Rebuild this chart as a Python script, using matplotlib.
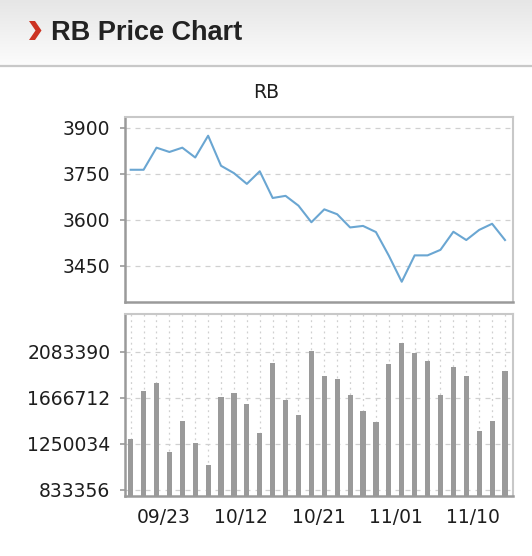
import matplotlib
matplotlib.use("Agg")
import matplotlib.pyplot as plt
import numpy as np
from matplotlib.patches import Polygon
from matplotlib.lines import Line2D

# price line (30 sessions)
price = [3763, 3763, 3835, 3821, 3835, 3803, 3874, 3776, 3752, 3717,
         3758, 3671, 3678, 3646, 3592, 3634, 3618, 3575, 3580, 3560,
         3483, 3398, 3484, 3484, 3502, 3561, 3534, 3567, 3587, 3534]
# volume bars
volume = [1289000, 1727000, 1802000, 1177000, 1458000, 1256000, 1057000, 1676000, 1712000, 1606000,
          1344000, 1978000, 1645000, 1507000, 2089000, 1860000, 1839000, 1688000, 1546000, 1446000,
          1972000, 2159000, 2068000, 2002000, 1688000, 1947000, 1860000, 1365000, 1458000, 1908000]
price_ticks = [3450, 3600, 3750, 3900]
vol_ticks = [833356, 1250034, 1666712, 2083390]
date_idx = [3, 9, 15, 21, 27]
date_labels = ["09/23", "10/12", "10/21", "11/01", "11/10"]

W, H = 532, 556
fig = plt.figure(figsize=(W / 100, H / 100), dpi=100)
fig.patch.set_facecolor("white")

# header band with gradient
hdr = fig.add_axes([0, 1 - 65 / H, 1, 65 / H])
grad = np.linspace(0, 1, 100).reshape(-1, 1)
hdr.imshow(grad, aspect="auto", cmap=matplotlib.colors.LinearSegmentedColormap.from_list(
    "g", ["#e6e6e6", "#fcfcfc"]), extent=[0, 1, 0, 1])
hdr.axis("off")
fig.add_artist(Line2D([0, 1], [1 - 65.5 / H, 1 - 65.5 / H], transform=fig.transFigure,
                      color="#c8c8c8", lw=1.6))
chev = [(29, 21), (35, 21), (41.5, 30.5), (35, 40), (29, 40), (35.5, 30.5)]
fig.add_artist(Polygon([(x / W, 1 - y / H) for x, y in chev], closed=True,
                       transform=fig.transFigure, color="#cc3322", lw=0))
fig.text(51 / W, 1 - 39.5 / H, "RB Price Chart", family="Liberation Sans", weight="bold",
         fontsize=19.5, color="#222222", va="baseline", ha="left")

fig.text(0.5, 1 - 93 / H, "RB", fontsize=13.5, color="#1e1e1e", ha="center", va="center")

x = np.arange(len(price))
left = 125 / W
width = (513 - 125) / W

def style(ax):
    for s in ["top", "right"]:
        ax.spines[s].set_color("#c8c8c8")
        ax.spines[s].set_linewidth(1.5)
    for s in ["left", "bottom"]:
        ax.spines[s].set_color("#9a9a9a")
        ax.spines[s].set_linewidth(1.8)
    ax.tick_params(axis="y", length=3.6, width=1.2, color="#9a9a9a", pad=7,
                   labelsize=13.5, labelcolor="#1e1e1e")
    ax.set_xlim(-0.44, 29.62)
    ax.set_axisbelow(True)

ax1 = fig.add_axes([left, 1 - 301.7 / H, width, 184.4 / H])
ax1.plot(x, price, color="#6aa6d2", lw=1.5)
ax1.set_ylim(3333, 3934)
ax1.set_yticks(price_ticks)
ax1.set_xticks([])
ax1.yaxis.grid(True, color="#d0d0d0", ls=(0, (4, 4)), lw=0.9)
style(ax1)

ax2 = fig.add_axes([left, 1 - 495.5 / H, width, 181.5 / H])
ax2.bar(x, volume, width=0.4, color="#9a9a9a")
ax2.set_ylim(780800, 2424900)
ax2.set_yticks(vol_ticks)
ax2.set_yticklabels([str(v) for v in vol_ticks])
ax2.set_xticks(x, minor=True)
ax2.set_xticks(np.array(date_idx) - 0.45)
ax2.set_xticklabels(date_labels)
ax2.tick_params(axis="x", which="both", length=0, pad=9, labelsize=13.5, labelcolor="#1e1e1e")
ax2.yaxis.grid(True, color="#d0d0d0", ls=(0, (4, 4)), lw=0.9)
ax2.xaxis.grid(True, which="minor", color="#d0d0d0", ls=(0, (1.5, 3)), lw=0.9)
style(ax2)

fig.savefig("out.png", dpi=100)
